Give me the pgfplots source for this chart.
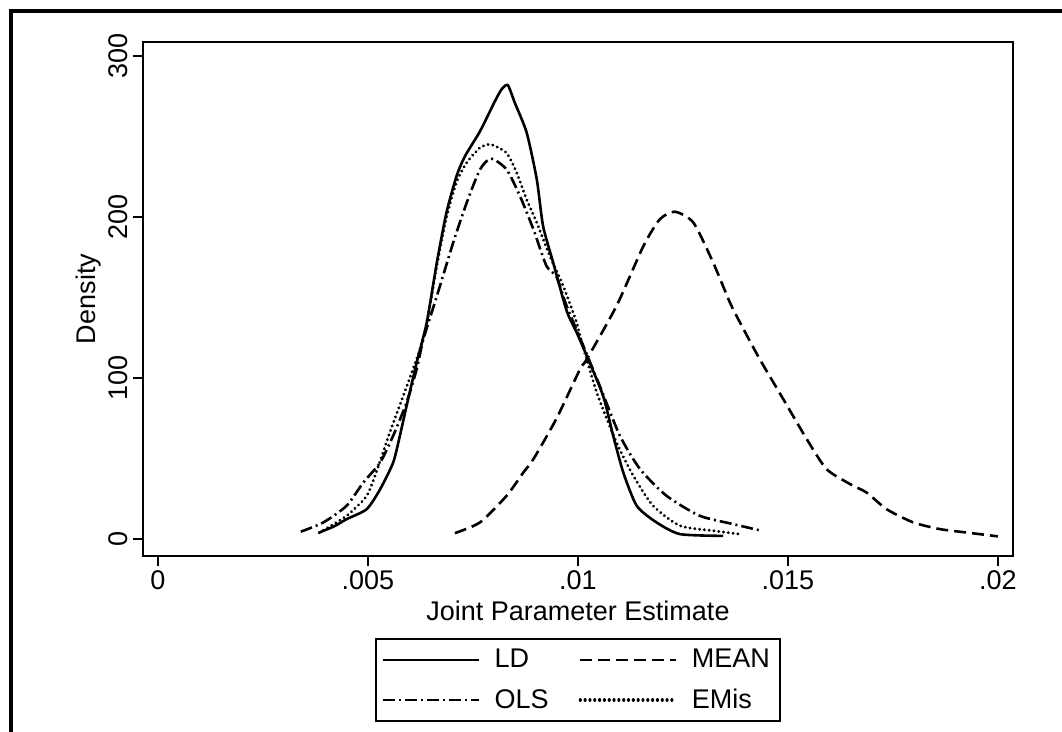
\documentclass[border=0pt]{standalone}
\usepackage{pgfplots}
\pgfplotsset{compat=1.18}
\usepackage{fontspec}
\setmainfont{Liberation Sans}
\newcommand\f{\fontsize{13.5}{16}\selectfont}
\begin{document}
\begin{tikzpicture}
\clip (-71.5pt,-88pt) rectangle (459.5pt,278pt);
\draw[line width=2.2pt] (-66pt,-100pt) -- (-66pt,272.5pt) -- (470pt,272.5pt);
\begin{axis}[
  at={(0,0)}, anchor=south west,
  width=435pt, height=257pt, scale only axis,
  xmin=-0.000357, xmax=0.02036, ymin=-10.5, ymax=309,
  axis line style={line width=1pt},
  tick style={line width=1pt, black},
  tick align=outside, major tick length=5pt,
  xtick={0,0.005,0.01,0.015,0.02},
  xticklabels={0,.005,.01,.015,.02},
  scaled x ticks=false,
  ytick={0,100,200,300},
  xtick pos=bottom, ytick pos=left,
  /pgf/number format/assume math mode=true,
  tick label style={font=\f},
  yticklabel style={rotate=90, anchor=south, yshift=-1pt},
  xticklabel style={yshift=1pt},
  label style={font=\f},
  xlabel={Joint Parameter Estimate},
  ylabel={Density},
  xlabel style={yshift=1.5pt},
  ylabel style={yshift=-3pt},
  legend style={at={(0.5,-0.16)}, anchor=north, font=\f, draw=black, line width=1pt,
    inner xsep=3pt, inner ysep=3pt, row sep=5pt,
    /tikz/every even column/.append style={column sep=13pt}},
  legend columns=2, legend cell align=left,
  legend image code/.code={\draw[#1] (0pt,0pt) -- (48pt,0pt); \path (53pt,0pt);},
  every axis plot/.append style={line width=1.3pt, black},
]
\addplot[solid, smooth, tension=0.4] coordinates {
(0.00384,4.1) (0.00420,8) (0.00449,12.4) (0.00497,18.6) (0.00529,31) (0.0056,47.6) (0.00576,64.2) (0.00592,82.8) (0.00616,109.7) (0.00640,134.6) (0.00664,171.9) (0.00687,203) (0.00711,225.7) (0.00731,238) (0.00767,253.6) (0.00802,272) (0.00818,279.5) (0.00833,282.2) (0.0085,271) (0.00878,252.6) (0.00902,223.6) (0.00917,194.6) (0.00941,171.9) (0.00973,142) (0.00997,128.4) (0.01021,113.9) (0.0106,89) (0.01084,64.2) (0.01108,41.4) (0.0114,20.7) (0.01187,10.4) (0.01243,3.1) (0.01346,2)
};
\addlegendentry{LD}
\addplot[dash pattern=on 6pt off 3pt, smooth, tension=0.4] coordinates {
(0.00707,3.7) (0.00767,10.4) (0.0083,26.9) (0.0087,41.4) (0.00894,49.7) (0.00949,75) (0.01005,105.6) (0.01021,111.8) (0.01092,145) (0.01156,182.2) (0.01195,198.8) (0.01231,203.5) (0.01275,196.7) (0.01322,171.9) (0.01362,147) (0.01386,134.6) (0.01433,111.8) (0.01489,87) (0.01545,62.1) (0.01592,43.5) (0.01648,34.2) (0.01687,29) (0.01735,18.6) (0.01798,10.4) (0.01862,6.2) (0.01925,4.1) (0.02,1.7)
};
\addlegendentry{MEAN}
\addplot[dash pattern=on 6pt off 2pt on 1pt off 2pt, smooth, tension=0.4] coordinates {
(0.0034,4.6) (0.00394,10.4) (0.00449,20.7) (0.00489,35.2) (0.00529,47.6) (0.0056,64.2) (0.00592,84.9) (0.00616,105.6) (0.00632,124.2) (0.00664,151) (0.00703,184.3) (0.00735,209) (0.00767,229.8) (0.00793,236.5) (0.0083,229.8) (0.00862,213.2) (0.00894,192.5) (0.00925,169.8) (0.00949,163) (0.00973,145) (0.01013,120) (0.01052,95.2) (0.011,64.2) (0.01148,43.5) (0.01211,26.9) (0.0129,14.5) (0.0137,9.3) (0.01437,5.2)
};
\addlegendentry{OLS}
\addplot[dash pattern=on 0.01pt off 2.4pt, line cap=round, line width=1.6pt, smooth, tension=0.4] coordinates {
(0.00384,4) (0.00449,14.5) (0.00497,26.9) (0.00525,45.5) (0.00552,66.3) (0.00584,89) (0.00624,118) (0.00640,134) (0.00664,170) (0.00687,200) (0.00711,222) (0.00735,234) (0.00767,243.3) (0.00793,245.3) (0.0083,240) (0.00854,227.8) (0.00878,211) (0.00902,196.7) (0.00933,176) (0.00965,157.3) (0.00997,134.6) (0.01005,126.3) (0.01045,91) (0.01092,60) (0.01132,39.3) (0.01179,20.7) (0.01243,8.3) (0.01322,5.2) (0.01386,3.1)
};
\addlegendentry{EMis}
\end{axis}
\end{tikzpicture}
\end{document}
